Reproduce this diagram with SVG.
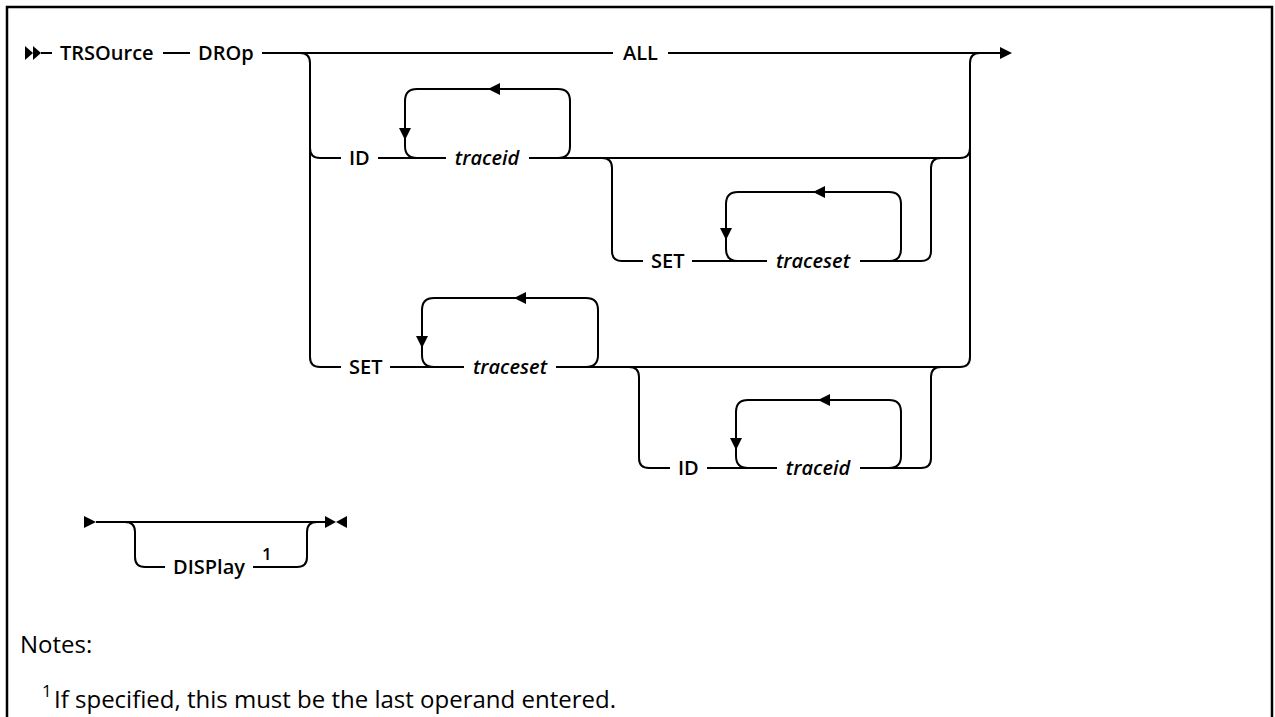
<svg xmlns="http://www.w3.org/2000/svg" width="1275" height="717" viewBox="0 0 1275 717">
<style>
.l{fill:none;stroke:#000;stroke-width:2}
.a{fill:#000;stroke:none}
.t{font-family:"Open Sans","Liberation Sans",Arial,sans-serif;font-size:20px;font-weight:600;fill:#000}
.i{font-style:italic;text-anchor:middle}
.n{font-family:"Open Sans","Liberation Sans",Arial,sans-serif;font-size:24px;fill:#000}
.s{font-family:"Open Sans","Liberation Sans",Arial,sans-serif;font-size:17px;fill:#000}
.b{font-weight:600}
</style>
<rect id="frame" x="7" y="7" width="1265" height="760" fill="none" stroke="#000" stroke-width="2.5"/>
<g id="connectors">
  <polygon class="a" points="25,46 33,53 25,60"/>
  <polygon class="a" points="33,46 41,53 33,60"/>
  <path class="l" d="M41 53H52M163 53H190M262 53H613M668 53H1000"/>
  <polygon class="a" points="1000,47 1012,53 1000,59"/>
  <path class="l" d="M300 53Q310 53 310 63V357Q310 367 320 367"/>
  <path class="l" d="M980 53Q970 53 970 63V357Q970 367 960 367"/>
  <path class="l" d="M310 148Q310 158 320 158H341M378 158H446M529 158H960Q970 158 970 148"/>
  <path class="l" d="M417 158Q405 158 405 146V101Q405 89 417 89H558Q570 89 570 101V146Q570 158 558 158"/>
  <polygon class="a" points="399,128 411,128 405,140"/>
  <polygon class="a" points="488,89 500,83 500,95"/>
  <path class="l" d="M602 158Q612 158 612 168V251Q612 261 622 261H643M692 261H767M860 261H921Q931 261 931 251V168Q931 158 941 158"/>
  <path class="l" d="M738 261Q726 261 726 249V204Q726 192 738 192H889Q901 192 901 204V249Q901 261 889 261"/>
  <polygon class="a" points="720,228 732,228 726,240"/>
  <polygon class="a" points="813,192 825,186 825,198"/>
  <path class="l" d="M320 367H341M390 367H464M556 367H960"/>
  <path class="l" d="M434 367Q422 367 422 355V310Q422 298 434 298H586Q598 298 598 310V355Q598 367 586 367"/>
  <polygon class="a" points="416,336 428,336 422,348"/>
  <polygon class="a" points="514,298 526,292 526,304"/>
  <path class="l" d="M629 367Q639 367 639 377V458Q639 468 649 468H670M707 468H777M860 468H921Q931 468 931 458V377Q931 367 941 367"/>
  <path class="l" d="M748 468Q736 468 736 456V412Q736 400 748 400H889Q901 400 901 412V456Q901 468 889 468"/>
  <polygon class="a" points="730,438 742,438 736,450"/>
  <polygon class="a" points="818,400 830,394 830,406"/>
  <polygon class="a" points="84,516 96,522 84,528"/>
  <path class="l" d="M96 522H325"/>
  <polygon class="a" points="325,516 336,522 325,528"/>
  <polygon class="a" points="347,516 336,522 347,528"/>
  <path class="l" d="M125 522Q135 522 135 532V557Q135 567 145 567H165M253 567H297Q307 567 307 557V532Q307 522 317 522"/>
</g>
<g id="n-trsource"><text class="t" x="60" y="60">TRSOurce</text></g>
<g id="n-drop"><text class="t" x="198" y="60">DROp</text></g>
<g id="n-all"><text class="t" x="623" y="60">ALL</text></g>
<g id="n-id1"><text class="t" x="349" y="165">ID</text></g>
<g id="n-traceid1"><text class="t i" x="487" y="165">traceid</text></g>
<g id="n-set1"><text class="t" x="651" y="268">SET</text></g>
<g id="n-traceset1"><text class="t i" x="813" y="268">traceset</text></g>
<g id="n-set2"><text class="t" x="349" y="374">SET</text></g>
<g id="n-traceset2"><text class="t i" x="510" y="374">traceset</text></g>
<g id="n-id2"><text class="t" x="678" y="475">ID</text></g>
<g id="n-traceid2"><text class="t i" x="818" y="475">traceid</text></g>
<g id="n-display"><text class="t" x="173" y="574">DISPlay</text><text class="s b" x="262" y="560">1</text></g>
<g id="notes">
  <text class="n" x="20" y="653">Notes:</text>
  <text class="s" x="42" y="697">1</text>
  <text class="n" x="54" y="708">If specified, this must be the last operand entered.</text>
</g>
</svg>
